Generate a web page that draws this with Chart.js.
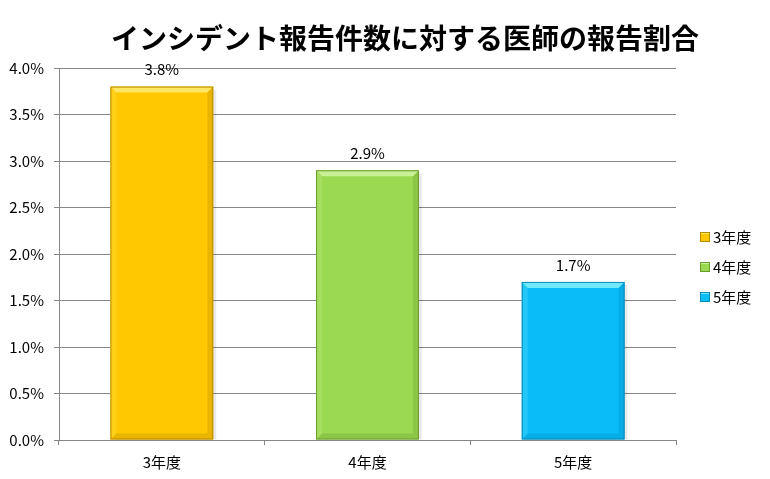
<!DOCTYPE html>
<html>
<head>
<meta charset="utf-8">
<script src="https://cdn.jsdelivr.net/npm/chart.js@4/dist/chart.umd.min.js"></script>
<style>
  html, body { margin: 0; padding: 0; background: #fff; }
  #wrap { width: 770px; height: 479px; }
</style>
</head>
<body>
<div id="wrap"><canvas id="c" width="770" height="479"></canvas></div>
<script>
const categories = ["3年度", "4年度", "5年度"];
const ratios = [3.8, 2.9, 1.7];
const yTicks = [0, 0.5, 1, 1.5, 2, 2.5, 3, 3.5, 4];
const titleText = "インシデント報告件数に対する医師の報告割合";

const barColors = ["#FFC800", "#9BD952", "#09BEF8"];
const edgeColors = ["#B88A00", "#6A9A2C", "#0A88B8"];
const lightColors = ["#FFE766", "#C8F094", "#70E8FF"];

const FONT = "'Noto Sans CJK JP', 'Noto Sans', sans-serif";

// soft bevel like the office-style bars
const bevelPlugin = {
  id: "bevel",
  afterDatasetsDraw(chart) {
    const ctx = chart.ctx;
    const meta = chart.getDatasetMeta(0);
    meta.data.forEach((bar, i) => {
      const x0 = bar.x - bar.width / 2, x1 = bar.x + bar.width / 2;
      const y0 = bar.y, y1 = bar.base;
      const b = 6;
      ctx.save();
      // soft shadow on the right
      ctx.fillStyle = "rgba(0,0,0,0.08)";
      ctx.fillRect(x1, y0 + 3, 3, y1 - y0 - 3);
      ctx.fillStyle = lightColors[i];
      ctx.beginPath();
      ctx.moveTo(x0, y0); ctx.lineTo(x1, y0); ctx.lineTo(x1 - b, y0 + b); ctx.lineTo(x0 + b, y0 + b);
      ctx.closePath(); ctx.fill();
      ctx.globalAlpha = 0.25;
      ctx.beginPath();
      ctx.moveTo(x0, y0); ctx.lineTo(x0 + b, y0 + b); ctx.lineTo(x0 + b, y1 - b); ctx.lineTo(x0, y1);
      ctx.closePath(); ctx.fill();
      ctx.globalAlpha = 0.3;
      ctx.fillStyle = edgeColors[i];
      ctx.beginPath();
      ctx.moveTo(x1, y0); ctx.lineTo(x1, y1); ctx.lineTo(x1 - b, y1 - b); ctx.lineTo(x1 - b, y0 + b);
      ctx.closePath(); ctx.fill();
      ctx.beginPath();
      ctx.moveTo(x0, y1); ctx.lineTo(x1, y1); ctx.lineTo(x1 - b, y1 - b); ctx.lineTo(x0 + b, y1 - b);
      ctx.closePath(); ctx.fill();
      ctx.globalAlpha = 1;
      ctx.strokeStyle = edgeColors[i];
      ctx.lineWidth = 1;
      ctx.strokeRect(x0 + 0.5, y0 + 0.5, bar.width - 1, y1 - y0 - 1);
      ctx.restore();
    });
  }
};

// value labels, title and legend
const textPlugin = {
  id: "texts",
  afterDraw(chart) {
    const ctx = chart.ctx;
    const meta = chart.getDatasetMeta(0);
    ctx.save();
    ctx.fillStyle = "#000";
    ctx.textBaseline = "middle";

    ctx.font = "15px " + FONT;
    ctx.textAlign = "center";
    meta.data.forEach((bar, i) => {
      ctx.fillText(ratios[i].toFixed(1) + "%", bar.x, bar.y - 17);
    });

    ctx.font = "bold 28px " + FONT;
    ctx.fillText(titleText, 405, 38);

    ctx.font = "15px " + FONT;
    ctx.textAlign = "left";
    const lx = chart.chartArea.right + 24;
    categories.forEach((c, i) => {
      const cy = 237 + i * 30;
      ctx.fillStyle = barColors[i];
      ctx.fillRect(lx, cy - 5, 10, 10);
      ctx.fillStyle = lightColors[i];
      ctx.fillRect(lx, cy - 5, 10, 2);
      ctx.strokeStyle = edgeColors[i];
      ctx.lineWidth = 1;
      ctx.strokeRect(lx + 0.5, cy - 4.5, 9, 9);
      ctx.fillStyle = "#000";
      ctx.fillText(c, lx + 13, cy);
    });
    ctx.restore();
  }
};

new Chart(document.getElementById("c"), {
  type: "bar",
  data: {
    labels: categories,
    datasets: [{
      data: ratios,
      backgroundColor: barColors,
      borderWidth: 0,
      categoryPercentage: 1,
      barPercentage: 0.5
    }]
  },
  options: {
    responsive: false,
    animation: false,
    layout: { padding: { left: 0, right: 94, top: 68, bottom: 0 } },
    plugins: {
      title: { display: false },
      legend: { display: false },
      tooltip: { enabled: false }
    },
    scales: {
      x: {
        afterFit(scale) { scale.height = 39; },
        grid: {
          offset: true,
          drawOnChartArea: false,
          color: "#868686",
          tickLength: 5
        },
        border: { color: "#868686" },
        ticks: { font: { family: FONT, size: 15 }, color: "#000", padding: 8 }
      },
      y: {
        min: 0,
        max: 4,
        afterFit(scale) { scale.width = 59; },
        afterBuildTicks(axis) { axis.ticks = yTicks.map(v => ({ value: v })); },
        grid: { color: "#868686", tickLength: 5 },
        border: { color: "#868686" },
        ticks: {
          font: { family: FONT, size: 15 },
          color: "#000",
          padding: 10,
          callback: v => v.toFixed(1) + "%"
        }
      }
    }
  },
  plugins: [bevelPlugin, textPlugin]
});
</script>
</body>
</html>
